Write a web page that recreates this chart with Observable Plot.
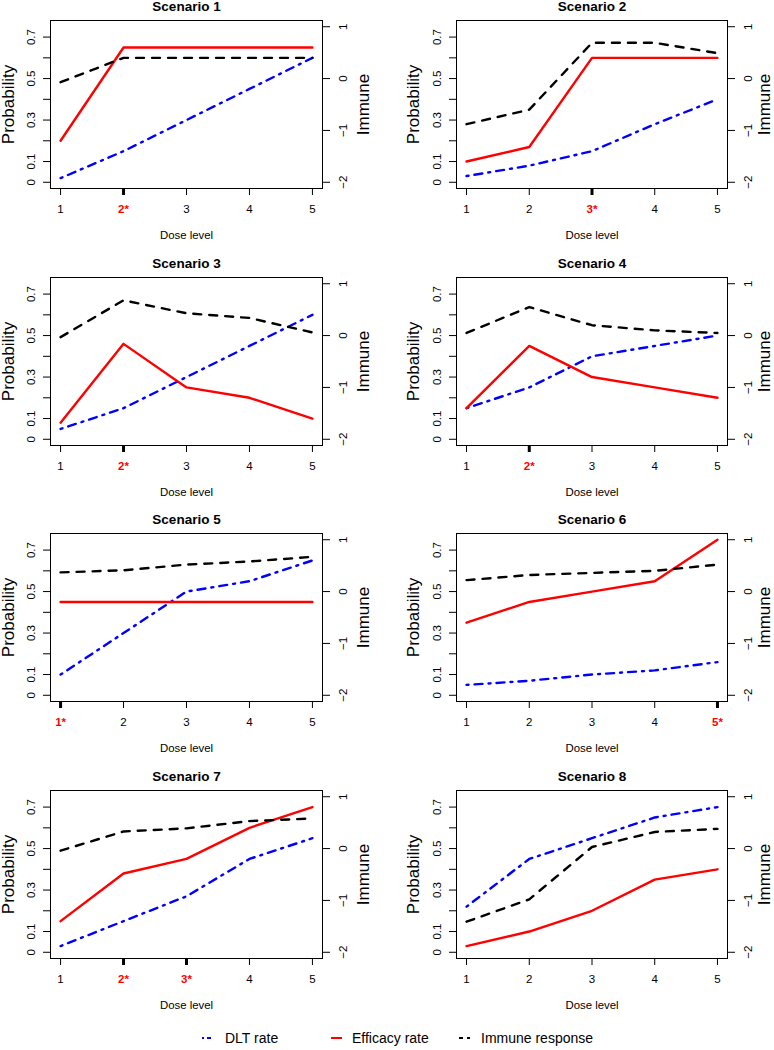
<!DOCTYPE html>
<html><head><meta charset="utf-8">
<script src="https://cdn.jsdelivr.net/npm/d3@7"></script>
<script src="https://cdn.jsdelivr.net/npm/@observablehq/plot@0.6"></script>
<style>
html,body{margin:0;padding:0;background:#fff;}
#page{position:relative;width:774px;height:1050px;overflow:hidden;font-family:"Liberation Sans",Arial,sans-serif;}
.panel{position:absolute;}
#legend{position:absolute;left:0;top:1026px;}
</style></head><body><div id="page"></div>
<script>
const scenarioTitles = ["Scenario 1","Scenario 2","Scenario 3","Scenario 4","Scenario 5","Scenario 6","Scenario 7","Scenario 8"];
const doseLevels = [1, 2, 3, 4, 5];
const dltRate = [
  [0.02, 0.15, 0.30, 0.45, 0.60],
  [0.03, 0.08, 0.15, 0.28, 0.40],
  [0.05, 0.15, 0.30, 0.45, 0.60],
  [0.15, 0.25, 0.40, 0.45, 0.50],
  [0.10, 0.30, 0.50, 0.55, 0.65],
  [0.05, 0.07, 0.10, 0.12, 0.16],
  [0.03, 0.15, 0.27, 0.45, 0.55],
  [0.22, 0.45, 0.55, 0.65, 0.70]
];
const efficacyRate = [
  [0.20, 0.65, 0.65, 0.65, 0.65],
  [0.10, 0.17, 0.60, 0.60, 0.60],
  [0.08, 0.46, 0.25, 0.20, 0.10],
  [0.15, 0.45, 0.30, 0.25, 0.20],
  [0.45, 0.45, 0.45, 0.45, 0.45],
  [0.35, 0.45, 0.50, 0.55, 0.75],
  [0.15, 0.38, 0.45, 0.60, 0.70],
  [0.03, 0.10, 0.20, 0.35, 0.40]
];
const immuneResponse = [
  [-0.07, 0.40, 0.40, 0.40, 0.40],
  [-0.88, -0.60, 0.69, 0.69, 0.49],
  [-0.03, 0.68, 0.43, 0.34, 0.06],
  [0.05, 0.55, 0.20, 0.10, 0.05],
  [0.37, 0.41, 0.52, 0.58, 0.67],
  [0.22, 0.32, 0.36, 0.40, 0.52],
  [-0.04, 0.33, 0.39, 0.53, 0.58],
  [-1.41, -0.98, 0.03, 0.32, 0.38]
];
const optimalDoses = [[2], [3], [2], [2], [1], [5], [2, 3], []];
const probTicks = [0, 0.1, 0.2, 0.3, 0.4, 0.5, 0.6, 0.7];
const probLabels = [0, 0.1, 0.3, 0.5, 0.7];
const immuneTicks = [-2, -1, 0, 1];
const legendLabels = ["DLT rate", "Efficacy rate", "Immune response"];
const legendColors = ["#0000ff", "#ff0000", "#000000"];

// secondary (immune) axis mapped onto the probability scale
const toProb = v => (v + 2) * 0.25;
const FONT = "Liberation Sans, Arial, Helvetica, sans-serif";
const page = document.getElementById("page");
const C = {textAnchor: "middle", lineAnchor: "middle"};
const LW = 2.4;

function panel(i) {
  const col = i % 2, row = Math.floor(i / 2);
  const mL = col === 0 ? 50 : 69, mR = col === 0 ? 65 : 47;
  const rows = doseLevels.map((d, k) => ({dose: d, dlt: dltRate[i][k], eff: efficacyRate[i][k], imm: immuneResponse[i][k]}));
  const opt = optimalDoses[i];
  const normal = doseLevels.filter(d => !opt.includes(d));
  const marks = [
    Plot.line(rows, {x: "dose", y: "dlt", stroke: "#0000ff", strokeWidth: LW, strokeDasharray: "2,6,8,6", strokeLinecap: "round", strokeLinejoin: "round"}),
    Plot.line(rows, {x: "dose", y: "eff", stroke: "#ff0000", strokeWidth: LW, strokeLinejoin: "round"}),
    Plot.line(rows, {x: "dose", y: d => toProb(d.imm), stroke: "#000000", strokeWidth: LW, strokeDasharray: "8,8", strokeLinecap: "round", strokeLinejoin: "round"}),
    Plot.frame({stroke: "black", strokeWidth: 1}),
    Plot.axisY({ticks: probTicks, tickSize: 7, tickFormat: () => "", label: null}),
    Plot.text(probLabels, {...C, y: d => d, text: d => String(d), frameAnchor: "left", rotate: -90, dx: -19, fontSize: 11.5}),
    Plot.axisY({anchor: "right", ticks: immuneTicks.map(toProb), tickSize: 7, tickFormat: () => "", label: null}),
    Plot.text(immuneTicks, {...C, y: toProb, text: d => d < 0 ? "\u2212" + Math.abs(d) : String(d), frameAnchor: "right", rotate: -90, dx: 21, fontSize: 11.5}),
    Plot.axisX({ticks: doseLevels, tickSize: 7, tickFormat: () => "", label: null}),
    Plot.text(normal, {...C, x: d => d, text: d => String(d), frameAnchor: "bottom", dy: 21, fontSize: 11.5}),
    Plot.text(["Dose level"], {...C, text: d => d, frameAnchor: "bottom", dy: 47, fontSize: 11.4}),
    Plot.text(["Probability"], {...C, text: d => d, frameAnchor: "left", rotate: -90, dx: col === 0 ? -42 : -43, fontSize: 17}),
    Plot.text(["Immune"], {...C, text: d => d, frameAnchor: "right", rotate: -90, dx: col === 0 ? 41 : 37, fontSize: 17}),
    Plot.text([scenarioTitles[i]], {...C, text: d => d, frameAnchor: "top", dy: -13.5, fontWeight: "bold", fontSize: 13.5})
  ];
  if (opt.length) {
    marks.push(Plot.axisX({ticks: opt, tickSize: 7, strokeWidth: 3, tickFormat: () => "", label: null}));
    marks.push(Plot.text(opt, {...C, x: d => d, text: d => d + "*", frameAnchor: "bottom", dy: 21, fill: "#ff0000", fontWeight: "bold", fontSize: 11.5}));
  }
  const svg = Plot.plot({
    width: 387, height: 256,
    marginLeft: mL, marginRight: mR, marginTop: 20, marginBottom: 68,
    x: {domain: [0.84, 5.16]},
    y: {domain: [-0.03, 0.78]},
    style: {fontFamily: FONT, fontSize: "11.5px", background: "transparent", overflow: "visible", color: "black"},
    marks
  });
  svg.classList.add("panel");
  svg.style.left = (col * 387) + "px";
  svg.style.top = (row * 256.67) + "px";
  svg.style.position = "absolute";
  page.appendChild(svg);
}
for (let i = 0; i < 8; i++) panel(i);

// legend below the panels
const sampleX = [[202, 211], [331, 342], [459, 470]];
const textX = [225, 352, 481];
const dashes = ["2,3,5,3", null, "4,4"];
const lg = d3.select(page).append("svg").attr("id", "legend").attr("width", 774).attr("height", 24)
  .style("font-family", FONT);
legendLabels.forEach((lab, k) => {
  const line = lg.append("line").attr("x1", sampleX[k][0]).attr("x2", sampleX[k][1])
    .attr("y1", 12).attr("y2", 12).attr("stroke", legendColors[k]).attr("stroke-width", 2);
  if (dashes[k]) line.attr("stroke-dasharray", dashes[k]);
  lg.append("text").attr("x", textX[k]).attr("y", 12).attr("dy", "0.35em")
    .attr("font-size", 14).text(lab);
});
</script>
</body></html>
